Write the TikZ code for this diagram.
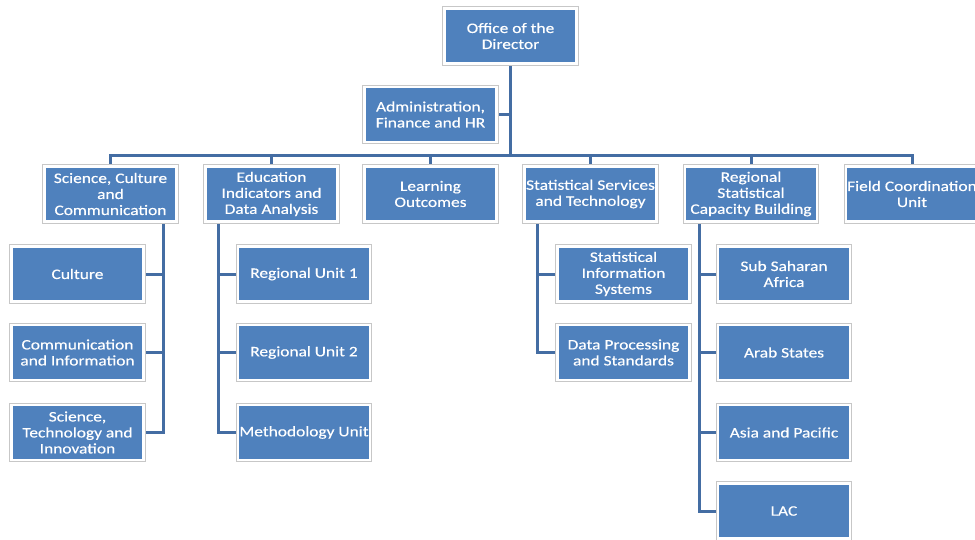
\documentclass[tikz,border=0pt]{standalone}
\usepackage{fontspec}
\setmainfont{Carlito}[FakeStretch=1.2,FakeBold=0.4]
\usetikzlibrary{backgrounds}
\definecolor{boxblue}{RGB}{79,129,189}
\definecolor{linkblue}{RGB}{68,109,163}
\tikzset{
  orgbox/.style={rectangle, fill=boxblue, draw=white, line width=2.5pt,
    preaction={draw=black!22, line width=4.5pt},
    minimum width=132pt, minimum height=55pt, inner sep=1pt,
    text=white, align=center,
    font=\fontsize{14.5pt}{16pt}\selectfont},
  link/.style={draw=linkblue, line width=3pt}
}
\begin{document}
\begin{tikzpicture}[x=1pt,y=-1pt]
\useasboundingbox (0,0) rectangle (975,539);
% nodes
\node[orgbox] (dir) at (510.5,36) {Office of the\\Director};
\node[orgbox] (adm) at (430.5,114.5) {Administration,\\Finance and HR};
\node[orgbox] (scc) at (110.5,194) {Science, Culture\\and\\Communication};
\node[orgbox] (eida) at (271.5,194) {Education\\Indicators and\\Data Analysis};
\node[orgbox] (lo) at (430.5,194) {Learning\\Outcomes};
\node[orgbox] (sst) at (590.5,194) {Statistical Services\\and Technology};
\node[orgbox] (rscb) at (751,194) {Regional\\Statistical\\Capacity Building};
\node[orgbox] (fcu) at (912,194) {Field Coordination\\Unit};
\node[orgbox] (cul) at (77.5,274) {Culture};
\node[orgbox] (com) at (77.5,352.5) {Communication\\and Information};
\node[orgbox] (sti) at (77.5,432.5) {Science,\\Technology and\\Innovation};
\node[orgbox] (ru1) at (304,274) {Regional Unit 1};
\node[orgbox] (ru2) at (304,352.5) {Regional Unit 2};
\node[orgbox] (met) at (304,432.5) {Methodology Unit};
\node[orgbox] (sis) at (623.5,274) {Statistical\\Information\\Systems};
\node[orgbox] (dps) at (623.5,352.5) {Data Processing\\and Standards};
\node[orgbox] (ssa) at (784,274) {Sub Saharan\\Africa};
\node[orgbox] (arab) at (784,352.5) {Arab States};
\node[orgbox] (asia) at (784,432.5) {Asia and Pacific};
\node[orgbox] (lac) at (784,511) {LAC};
% connectors (behind boxes)
\coordinate (bus) at (0,155);
\coordinate (sccv) at ([xshift=52.5pt]scc.south);
\coordinate (eidav) at ([xshift=-53.5pt]eida.south);
\coordinate (sstv) at ([xshift=-53.5pt]sst.south);
\coordinate (rscbv) at ([xshift=-52pt]rscb.south);
\begin{scope}[on background layer]
\draw[link] (dir.south) -- (dir.south |- bus);
\draw[link] (adm.east) -- (adm.east -| dir.south);
\draw[link] (scc.north) |- (bus -| fcu.north) -- (fcu.north);
\draw[link] (eida.north) -- (eida.north |- bus);
\draw[link] (lo.north) -- (lo.north |- bus);
\draw[link] (sst.north) -- (sst.north |- bus);
\draw[link] (rscb.north) -- (rscb.north |- bus);
\draw[link] (sccv) |- (sti.east);
\draw[link] (cul.east) -- (cul.east -| sccv);
\draw[link] (com.east) -- (com.east -| sccv);
\draw[link] (eidav) |- (met.west);
\draw[link] (ru1.west) -- (ru1.west -| eidav);
\draw[link] (ru2.west) -- (ru2.west -| eidav);
\draw[link] (sstv) |- (dps.west);
\draw[link] (sis.west) -- (sis.west -| sstv);
\draw[link] (rscbv) |- (lac.west);
\draw[link] (ssa.west) -- (ssa.west -| rscbv);
\draw[link] (arab.west) -- (arab.west -| rscbv);
\draw[link] (asia.west) -- (asia.west -| rscbv);
\end{scope}
\end{tikzpicture}
\end{document}
